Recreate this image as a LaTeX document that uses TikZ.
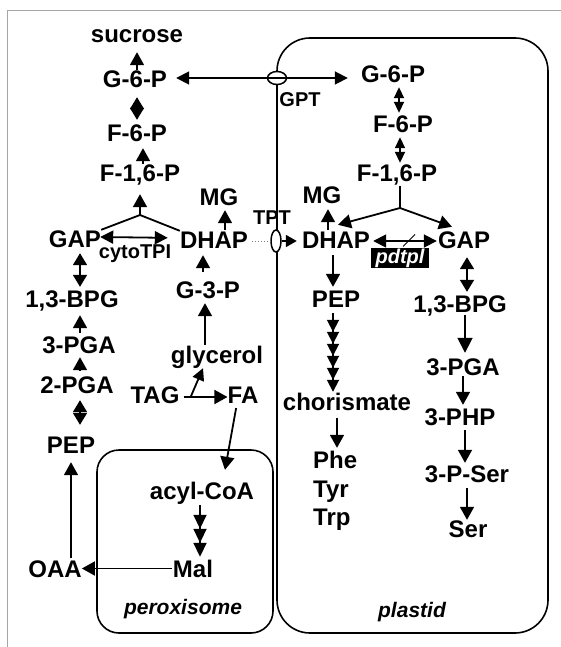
\documentclass[tikz,border=0pt]{standalone}
\usepackage{fontspec}
\setmainfont{Liberation Sans}
\usetikzlibrary{arrows.meta,calc,shapes.geometric}
\begin{document}
\begin{tikzpicture}[x=1pt,y=-1pt,
 lbl/.style={font=\fontsize{24}{24}\selectfont\bfseries, inner sep=0pt, text height=17pt, text depth=0pt, anchor=base},
 sml/.style={font=\fontsize{20}{20}\selectfont\bfseries, inner sep=0pt, text height=14pt, text depth=0pt, anchor=base},
 cmp/.style={font=\fontsize{21}{21}\selectfont\bfseries\itshape, inner sep=0pt, anchor=base},
 ln/.style={line width=1.8pt},
 arr/.style={ln, -{Triangle[length=13pt,width=14pt]}},
 dbl/.style={ln, {Triangle[length=12pt,width=14pt]}-{Triangle[length=12pt,width=14pt]}},
 dbls/.style={ln, {Triangle[length=11pt,width=10pt]}-{Triangle[length=11pt,width=10pt]}},
 membrane/.style={draw, line width=1.5pt, fill=white, ellipse, inner sep=0pt},
]
\useasboundingbox (0,0) rectangle (561,647);
% outer frame
\draw[gray!70, line width=1pt] (561,11) -- (7,11) -- (7,647);
% compartments
\draw[line width=1.6pt, rounded corners=33pt] (277,38) rectangle (548,633);
\draw[line width=1.6pt, rounded corners=22pt] (97,450) rectangle (273,633);
\node[membrane, minimum width=19pt, minimum height=13pt] (gptell) at (277,78) {};
\node[membrane, minimum width=10pt, minimum height=22pt] (tptell) at (276,241) {};

% cytosol nodes
\node[lbl] (sucrose) at (137,43) {sucrose};
\node[lbl] (g6pL) at (135,88) {G-6-P};
\node[lbl] (f6pL) at (137,142) {F-6-P};
\node[lbl] (f16pL) at (140,182) {F-1,6-P};
\node[lbl] (mgL) at (219,205) {MG};
\node[lbl] (gapL) at (75,247) {GAP};
\node[sml] (cytotpi) at (135,258) {cytoTPI};
\node[lbl] (dhapL) at (214,248) {DHAP};
\node[lbl] (g3p) at (208,298) {G-3-P};
\node[lbl] (bpgL) at (72,307) {1,3-BPG};
\node[lbl] (pga3L) at (79,353) {3-PGA};
\node[lbl] (glycerol) at (217,363) {glycerol};
\node[lbl] (pga2) at (77,393) {2-PGA};
\node[lbl] (tag) at (155,403) {TAG};
\node[lbl] (fa) at (243,403) {FA};
\node[lbl] (pepL) at (71,453) {PEP};
\node[lbl] (acylcoa) at (202,499) {acyl-CoA};
\node[lbl] (mal) at (193,577) {Mal};
\node[lbl] (oaa) at (55,577) {OAA};
\node[cmp] (perox) at (183,614) {peroxisome};

% plastid nodes
\node[lbl] (g6pR) at (393,83) {G-6-P};
\node[sml] (gpt) at (300,107) {GPT};
\node[lbl] (f6pR) at (403,133) {F-6-P};
\node[lbl] (f16pR) at (397,181) {F-1,6-P};
\node[lbl] (mgR) at (322,203) {MG};
\node[sml] (tpt) at (272,224) {TPT};
\node[lbl] (dhapR) at (336,248) {DHAP};
\node[lbl] (gapR) at (464,248) {GAP};
\node[fill=black, text=white, font=\fontsize{20}{20}\selectfont\bfseries\itshape, inner sep=1pt, minimum width=58pt, minimum height=18pt] (pdtpl) at (400,258) {pdtpl};
\node[lbl] (pepR) at (336,307) {PEP};
\node[lbl] (bpgR) at (460,312) {1,3-BPG};
\node[lbl] (pgaR) at (463,375) {3-PGA};
\node[lbl] (chor) at (347,410) {chorismate};
\node[lbl] (php) at (460,425) {3-PHP};
\node[lbl, anchor=base west] (phe) at (313,468) {Phe};
\node[lbl, anchor=base west] (tyr) at (313,497) {Tyr};
\node[lbl, anchor=base west] (trp) at (313,525) {Trp};
\node[lbl] (pser) at (467,482) {3-P-Ser};
\node[lbl] (ser) at (468,537) {Ser};
\node[cmp] (plastid) at (412,617) {plastid};

% cytosol connectors
\draw[arr, shorten <=1pt, shorten >=9pt] ($(g6pL.north)+(2,0)$) -- ($(sucrose.south -| g6pL.north)+(2,0)$);
\draw[dbl, shorten <=5pt, shorten >=9pt] (f6pL.north) -- (g6pL.south -| f6pL.north);
\draw[arr, shorten <=1pt, shorten >=6pt] ($(f16pL.north)+(3,0)$) -- ($(f6pL.south -| f16pL.north)+(3,0)$);
\coordinate (apexL) at (140,215);
\draw[ln] (gapL.north east) -- (apexL) -- (dhapL.north west);
\draw[arr, shorten >=12pt] (apexL) -- (apexL |- f16pL.south);
\draw[ln, {Triangle[length=13pt,width=13pt]}-{Triangle[length=13pt,width=13pt]}, shorten <=-1pt, shorten >=12pt] ([yshift=1.5pt]gapL.east) -- ([yshift=1.5pt]dhapL.west);
\draw[arr, shorten <=1pt, shorten >=5pt] ($(dhapL.north)+(11,0)$) -- ($(mgL.south -| dhapL.north)+(11,0)$);
\draw[arr, shorten <=9pt, shorten >=7pt] ($(g3p.north)+(-5,0)$) -- ($(dhapL.south -| g3p.north)+(-5,0)$);
\draw[dbl, shorten <=6pt, shorten >=3pt] ($(gapL.south)+(5,0)$) -- ($(bpgL.north -| gapL.south)+(5,0)$);
\draw[arr, shorten <=3pt, shorten >=8pt] ($(pga3L.north)+(1,0)$) -- ($(bpgL.south -| pga3L.north)+(1,0)$);
\draw[arr, shorten <=6pt, shorten >=4pt] ($(pga2.north)+(3,0)$) -- ($(pga3L.south -| pga2.north)+(3,0)$);
\draw[dbl, shorten <=11pt, shorten >=7pt] ($(pepL.north)+(9,0)$) -- ($(pga2.south -| pepL.north)+(9,0)$);
\draw[arr, shorten <=2pt, shorten >=9pt] (oaa.north -| pepL.south) -- (pepL.south);
\draw[arr, shorten <=1pt, shorten >=0pt] (mal.west) -- (mal.west -| oaa.east);
\draw[ln, -{Triangle[length=14pt,width=13pt]Triangle[length=14pt,width=13pt]Triangle[length=14pt,width=13pt]}, shorten <=6pt, shorten >=3pt] ($(acylcoa.south)+(-2,0)$) -- ($(mal.north -| acylcoa.south)+(-2,0)$);
\draw[arr, shorten <=5pt] ($(fa.south)+(-6,0)$) -- ($(acylcoa.north)+(23,-12)$);
\draw[arr, shorten <=4pt] ([yshift=-2.5pt]tag.east) -- ([yshift=-2.5pt]fa.west);
\coordinate (brk) at ($(tag.east)+(11,2.5)$);
\draw[ln, -{Triangle[length=12pt,width=12pt]}] (brk) -- ($(glycerol.south)+(-14,5)$);
\draw[arr, shorten <=1pt, shorten >=5pt] ($(glycerol.north)+(-12,0)$) -- ($(g3p.south -| glycerol.north)+(-12,0)$);

% transporters
\draw[ln, {Triangle[length=13pt,width=13pt]}-{Triangle[length=13pt,width=13pt]}, shorten <=9pt, shorten >=13pt] (gptell -| g6pL.east) -- (gptell -| g6pR.west);
\draw[gray, line width=1pt, dotted, shorten <=4pt] ([yshift=-1.5pt]dhapL.east) -- (tptell.west);
\draw[ln, -{Triangle[length=11pt,width=12pt]}, shorten >=5pt] (tptell.east) -- (tptell.east -| dhapR.west);

% plastid connectors
\draw[dbls, shorten <=4pt, shorten >=3pt] ($(g6pR.south)+(6,0)$) -- ($(f6pR.north -| g6pR.south)+(6,0)$);
\draw[dbls, shorten <=4pt, shorten >=1pt] ($(f6pR.south)+(-3,0)$) -- ($(f16pR.north -| f6pR.south)+(-3,0)$);
\coordinate (apexR) at (400,208);
\draw[ln, shorten <=5pt] ($(f16pR.south)+(3,0)$) -- (apexR);
\draw[arr] (apexR) -- ($(dhapR.north)+(2,-6)$);
\draw[arr] (apexR) -- ($(gapR.north)+(-12,-4)$);
\draw[arr, shorten <=1pt, shorten >=6pt] ($(dhapR.north)+(-8,0)$) -- ($(mgR.south -| dhapR.north)+(-8,0)$);
\draw[ln, {Triangle[length=13pt,width=13pt]}-{Triangle[length=13pt,width=13pt]}, shorten <=3pt, shorten >=1pt] ([yshift=-1.5pt]dhapR.east) -- ([yshift=-1.5pt]gapR.west);
\draw[line width=1pt] ($(pdtpl.north)+(3,-1)$) -- ($(pdtpl.north)+(15,-13)$);
\draw[dbl, shorten <=9pt, shorten >=3pt] ($(gapR.south)+(3,0)$) -- ($(bpgR.north -| gapR.south)+(3,0)$);
\draw[ln, -{Triangle[length=15pt,width=15pt]}, shorten <=3pt, shorten >=5pt] ($(bpgR.south)+(5,0)$) -- ($(pgaR.north -| bpgR.south)+(5,0)$);
\draw[arr, shorten <=1pt, shorten >=3pt] (pgaR.south) -- (php.north -| pgaR.south);
\draw[arr, shorten <=5pt, shorten >=2pt] ($(php.south)+(5,0)$) -- ($(pser.north -| php.south)+(5,0)$);
\draw[arr, shorten <=6pt, shorten >=0pt] (pser.south) -- (ser.north -| pser.south);
\draw[arr, shorten <=7pt, shorten >=3pt] ($(dhapR.south)+(-3,0)$) -- ($(pepR.north -| dhapR.south)+(-3,0)$);
\draw[ln, -{Triangle[length=12pt,width=12pt]Triangle[length=12pt,width=12pt]Triangle[length=12pt,width=12pt]Triangle[length=12pt,width=12pt]Triangle[length=12pt,width=12pt]Triangle[length=12pt,width=12pt]}, shorten <=6pt, shorten >=1pt] ($(pepR.south)+(-3,0)$) -- ($(chor.north -| pepR.south)+(-3,0)$);
\draw[arr, shorten <=8pt, shorten >=3pt] ($(chor.south)+(-10,0)$) -- ($(phe.north -| chor.south)+(-10,0)$);
\end{tikzpicture}
\end{document}
